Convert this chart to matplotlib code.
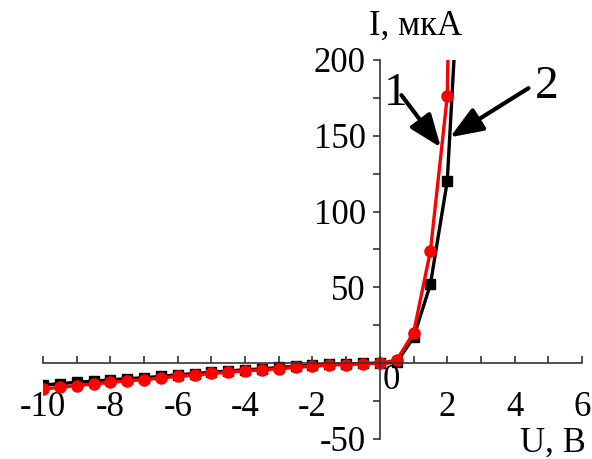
import numpy as np
import matplotlib
matplotlib.use('Agg')
from matplotlib import pyplot as plt
from matplotlib.ticker import MultipleLocator

plt.rcParams['font.family'] = ['Liberation Serif', 'DejaVu Serif']
plt.rcParams['axes.unicode_minus'] = False

# U, B
u = [-10, -9.5, -9, -8.5, -8, -7.5, -7, -6.5, -6, -5.5, -5, -4.5, -4, -3.5, -3,
     -2.5, -2, -1.5, -1, -0.5, 0, 0.5, 1, 1.5, 2, 2.5]
# curve 1 (red circles)
i_red = [-17, -15.9, -14.8, -13.7, -12.6, -11.6, -10.9, -9.8, -8.6, -8.0, -6.8,
         -6.0, -5.0, -4.4, -3.7, -2.7, -2.0, -1.2, -0.9, -0.3, 0, 2, 20, 74, 176, 780]
# curve 2 (black squares)
i_black = [-14.5, -13.5, -12.6, -11.9, -11.0, -10.2, -9.6, -8.7, -7.6, -6.9, -6.0,
           -5.2, -4.3, -3.8, -2.8, -2.1, -1.3, -0.7, -0.5, -0.2, 0, 0.5, 17, 52, 120, 320]

xticks = [-10, -8, -6, -4, -2, 0, 2, 4, 6]
xlabels = ['-10', '-8', '-6', '-4', '-2', '', '2', '4', '6']
yticks = [-50, 0, 50, 100, 150, 200]
ylabels = ['-50', '', '50', '100', '150', '200']

fig = plt.figure(figsize=(5.92, 4.59), dpi=100)
ax = fig.add_axes([0.0726, 0.0436, 0.9105, 0.8257])

ax.plot(u, i_black, color='black', lw=2.4, marker='s', ms=7)
ax.plot(u, i_red, color='red', lw=2.4, marker='o', ms=8)

ax.set_xlim(-10, 6)
ax.set_ylim(-50, 200)

for s in ['top', 'right']:
    ax.spines[s].set_visible(False)
ax.spines['left'].set_position(('data', 0))
ax.spines['bottom'].set_position(('data', 0))
for s in ['left', 'bottom']:
    ax.spines[s].set_color('#333333')
    ax.spines[s].set_linewidth(1.2)

ax.set_xticks(xticks)
ax.set_xticklabels(xlabels)
ax.xaxis.set_minor_locator(MultipleLocator(1))
ax.set_yticks(yticks)
ax.set_yticklabels(ylabels)
ax.yaxis.set_minor_locator(MultipleLocator(25))

ax.tick_params(axis='x', which='both', direction='in', length=5, width=1.2,
               color='#333333', labelsize=25, pad=20)
ax.tick_params(axis='y', which='both', direction='out', length=5, width=1.2,
               color='#333333', labelsize=25, pad=5)

ax.text(0.34, -0.5, '0', fontsize=25, ha='center', va='top')
ax.text(1.07, 216.4, 'I, мкА', fontsize=25, ha='center', va='baseline', clip_on=False)
ax.text(5.15, -58.5, 'U, B', fontsize=25, ha='center', va='baseline', clip_on=False)

arrow = dict(arrowstyle='-|>,head_length=0.8,head_width=0.31', color='black',
             lw=3, mutation_scale=25, shrinkA=0, shrinkB=0)
ax.annotate('', xy=(1.81, 142.3), xytext=(0.64, 176.8), arrowprops=arrow)
ax.annotate('', xy=(2.08, 149), xytext=(4.41, 181.4), arrowprops=arrow)
ax.text(0.46, 170, '1', fontsize=34, ha='center', va='baseline')
ax.text(4.96, 174.8, '2', fontsize=34, ha='center', va='baseline')

fig.savefig('out.png', dpi=100)
